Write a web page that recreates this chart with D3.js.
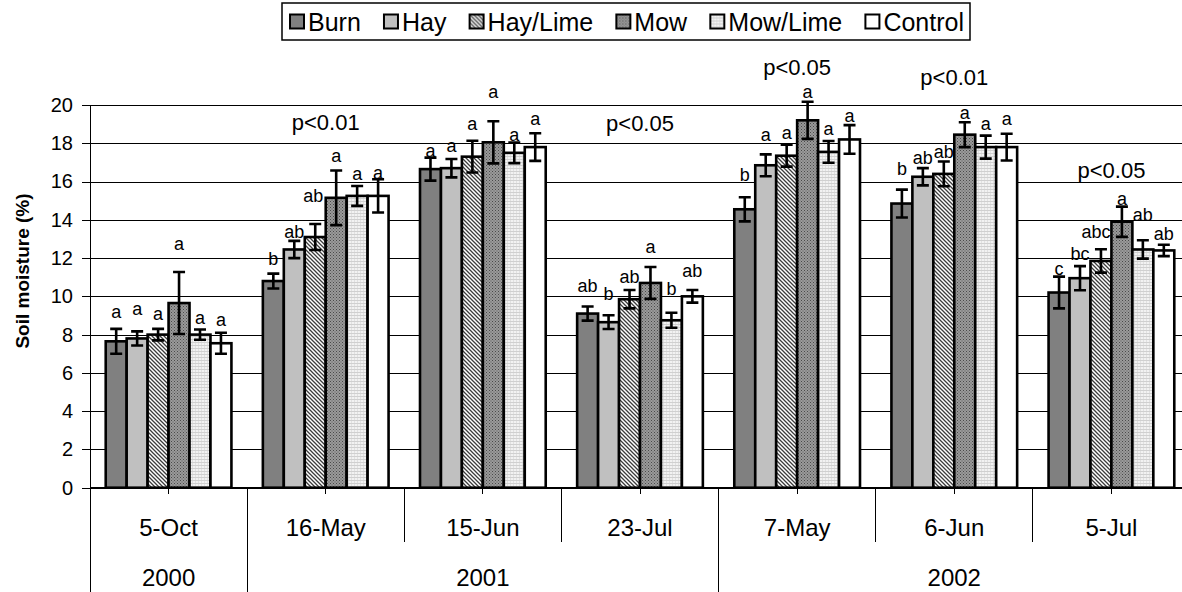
<!DOCTYPE html>
<html>
<head>
<meta charset="utf-8">
<script src="https://cdn.jsdelivr.net/npm/d3@7"></script>
<style>
  html, body { margin: 0; padding: 0; background: #fff; }
  svg { display: block; font-family: "Liberation Sans", Arial, sans-serif; }
</style>
</head>
<body>
<svg id="chart" width="1182" height="592"></svg>
<script>
// ---- data ----
const dates = ["5-Oct", "16-May", "15-Jun", "23-Jul", "7-May", "6-Jun", "5-Jul"];
const yearLabels = ["2000", "2001", "2002"];
const yearSpans = [1, 3, 3];            // number of sampling dates in each year
const seriesNames = ["Burn", "Hay", "Hay/Lime", "Mow", "Mow/Lime", "Control"];
const yTicks = [0, 2, 4, 6, 8, 10, 12, 14, 16, 18, 20];

const burn       = [7.65, 10.8, 16.65, 9.1, 14.55, 14.85, 10.2];
const hay        = [7.8, 12.45, 16.7, 8.65, 16.85, 16.25, 10.95];
const hayLime    = [8.0, 13.1, 17.3, 9.85, 17.35, 16.4, 11.85];
const mow        = [9.65, 15.15, 18.05, 10.7, 19.2, 18.45, 13.9];
const mowLime    = [8.0, 15.25, 17.5, 8.75, 17.55, 17.8, 12.45];
const control    = [7.55, 15.25, 17.8, 10.0, 18.2, 17.8, 12.4];

const burnErr    = [0.65, 0.39, 0.6, 0.37, 0.63, 0.73, 0.83];
const hayErr     = [0.37, 0.45, 0.48, 0.36, 0.57, 0.45, 0.63];
const hayLimeErr = [0.3, 0.68, 0.83, 0.48, 0.57, 0.65, 0.61];
const mowErr     = [1.62, 1.43, 1.1, 0.83, 0.97, 0.65, 0.79];
const mowLimeErr = [0.27, 0.52, 0.54, 0.39, 0.57, 0.6, 0.48];
const controlErr = [0.55, 0.87, 0.72, 0.33, 0.75, 0.7, 0.3];

const burnLetters    = ["a", "b", "a", "ab", "b", "b", "c"];
const hayLetters     = ["a", "ab", "a", "b", "a", "ab", "bc"];
const hayLimeLetters = ["a", "ab", "a", "ab", "a", "ab", "abc"];
const mowLetters     = ["a", "a", "a", "a", "a", "a", "a"];
const mowLimeLetters = ["a", "a", "a", "b", "a", "a", "ab"];
const controlLetters = ["a", "a", "a", "ab", "a", "a", "ab"];

const pValues = ["", "p<0.01", "", "p<0.05", "p<0.05", "p<0.01", "p<0.05"];

// ---- layout ----
const W = 1182, H = 592;
const plot = { left: 90, right: 1190, top: 105, bottom: 487.7 };
// height (in axis units) at which each significance note sits
const pLevel = [null, 19.1, null, 19.05, 22.0, 21.45, 16.6];
// hand placement of the letter labels: [dx, dy] in px, by date then treatment
const letterNudge = [
  [[0,-4],[0,-9],[0,-2],[0,-15],[0,2],[0,0]],
  [[0,-2],[0,4],[-2,-15],[0,-1],[0,1],[0,7]],
  [[0,6],[0,0],[0,-4],[0,-16],[0,5],[0,-1]],
  [[0,-7],[0,-8],[0,0],[0,-7],[0,-11],[0,-6]],
  [[0,-9],[0,-6],[0,1],[0,3],[0,1],[0,4]],
  [[0,-8],[0,3],[0,4],[0,4],[0,1],[0,-2]],
  [[0,5],[0,1],[-5,-4],[0,5],[0,-12],[0,2]]
];

const values  = [burn, hay, hayLime, mow, mowLime, control];
const errors  = [burnErr, hayErr, hayLimeErr, mowErr, mowLimeErr, controlErr];
const letters = [burnLetters, hayLetters, hayLimeLetters, mowLetters, mowLimeLetters, controlLetters];

const svg = d3.select("#chart");

// ---- fills ----
const defs = svg.append("defs");
function pattern(id, size, bg, draw) {
  const p = defs.append("pattern").attr("id", id).attr("patternUnits", "userSpaceOnUse")
    .attr("width", size).attr("height", size);
  p.append("rect").attr("width", size).attr("height", size).attr("fill", bg);
  draw(p);
}
pattern("hatchDiag", 4, "#ffffff", p => {
  p.append("path").attr("d", "M0,0 L4,4 M-1,3 L1,5 M3,-1 L5,1")
    .attr("stroke", "#3c3c3c").attr("stroke-width", 1.3);
});
pattern("dotDark", 3, "#9a9a9a", p => {
  p.append("rect").attr("x", 0).attr("y", 0).attr("width", 1).attr("height", 1).attr("fill", "#4a4a4a");
  p.append("rect").attr("x", 1.5).attr("y", 1.5).attr("width", 1).attr("height", 1).attr("fill", "#5a5a5a");
});
pattern("dotLight", 3, "#f2f2f2", p => {
  p.append("rect").attr("x", 0).attr("y", 0).attr("width", 3).attr("height", 0.8).attr("fill", "#c8c8c8");
  p.append("rect").attr("x", 0).attr("y", 1.5).attr("width", 1).attr("height", 1).attr("fill", "#d0d0d0");
});
const fills = ["#808080", "#c0c0c0", "url(#hatchDiag)", "url(#dotDark)", "url(#dotLight)", "#ffffff"];

// ---- scales ----
const x0 = d3.scaleBand().domain(dates).range([plot.left, plot.right]).paddingInner(0).paddingOuter(0);
const x1 = d3.scaleBand().domain(seriesNames).range([0, x0.bandwidth()]).paddingInner(0).paddingOuter(0.75);
const y = d3.scaleLinear().domain([0, 20]).range([plot.bottom, plot.top]);

// ---- gridlines ----
svg.append("g")
  .attr("transform", `translate(${plot.left},0)`)
  .call(d3.axisLeft(y).tickValues(yTicks).tickSize(-(plot.right - plot.left)).tickFormat(""))
  .call(g => g.select(".domain").remove())
  .call(g => g.selectAll("line").attr("stroke", "#000").attr("stroke-width", 1).attr("shape-rendering", "crispEdges"));

// ---- bars ----
const rows = [];
dates.forEach((d, gi) => seriesNames.forEach((s, si) => {
  rows.push({ date: d, series: s, gi, si, v: values[si][gi], e: errors[si][gi], letter: letters[si][gi] });
}));

svg.append("g").selectAll("rect").data(rows).join("rect")
  .attr("x", r => x0(r.date) + x1(r.series))
  .attr("y", r => y(r.v))
  .attr("width", x1.bandwidth())
  .attr("height", r => y(0) - y(r.v))
  .attr("fill", r => fills[r.si])
  .attr("stroke", "#000")
  .attr("stroke-width", 2.6);

// ---- error bars ----
const cap = 6;
const eb = svg.append("g").attr("stroke", "#000").attr("stroke-width", 2.6).attr("fill", "none");
eb.selectAll("path").data(rows).join("path")
  .attr("d", r => {
    const cx = x0(r.date) + x1(r.series) + x1.bandwidth() / 2;
    const t = y(r.v + r.e), b = y(r.v - r.e);
    return `M${cx},${t}V${b}M${cx - cap},${t}H${cx + cap}M${cx - cap},${b}H${cx + cap}`;
  });

// ---- letter labels ----
svg.append("g").attr("font-size", 18).attr("text-anchor", "middle").attr("fill", "#000")
  .selectAll("text").data(rows).join("text")
  .attr("x", r => x0(r.date) + x1(r.series) + x1.bandwidth() / 2 + letterNudge[r.gi][r.si][0])
  .attr("y", r => y(r.v + r.e) - 12 + 5 + letterNudge[r.gi][r.si][1])
  .text(r => r.letter);

// ---- significance notes ----
svg.append("g").attr("font-size", 22).attr("text-anchor", "middle")
  .selectAll("text").data(dates.map((d, i) => ({ d, p: pValues[i], lv: pLevel[i] })).filter(o => o.p))
  .join("text")
  .attr("x", o => x0(o.d) + x0.bandwidth() / 2)
  .attr("y", o => y(o.lv) + 8)
  .text(o => o.p);

// ---- y axis ----
svg.append("g")
  .attr("transform", `translate(${plot.left},0)`)
  .call(d3.axisLeft(y).tickValues(yTicks).tickSize(8).tickPadding(9))
  .call(g => g.select(".domain").remove())
  .call(g => g.selectAll("line").attr("stroke", "#000").attr("shape-rendering", "crispEdges"))
  .call(g => g.selectAll("text").attr("font-size", 20).attr("font-family", "Liberation Sans, Arial, sans-serif").attr("fill", "#000"));

svg.append("line")
  .attr("x1", plot.left).attr("x2", plot.left).attr("y1", plot.top).attr("y2", H)
  .attr("stroke", "#000").attr("shape-rendering", "crispEdges");

svg.append("text")
  .attr("transform", `translate(22,271) rotate(-90)`)
  .attr("text-anchor", "middle").attr("dominant-baseline", "central")
  .attr("font-size", 19).attr("font-weight", "bold")
  .text("Soil moisture (%)");

// ---- category axis ----
svg.append("g")
  .attr("transform", `translate(0,${plot.bottom})`)
  .call(d3.axisBottom(x0).tickSize(6).tickPadding(25))
  .call(g => g.select(".domain").remove())
  .call(g => g.selectAll("line").attr("stroke", "#000").attr("shape-rendering", "crispEdges"))
  .call(g => g.selectAll("text").attr("font-size", 24).attr("font-family", "Liberation Sans, Arial, sans-serif").attr("fill", "#000"));

svg.append("line")
  .attr("x1", plot.left).attr("x2", plot.right).attr("y1", plot.bottom).attr("y2", plot.bottom)
  .attr("stroke", "#000").attr("shape-rendering", "crispEdges");

// separators between dates (short) and between years (full height)
const yearBounds = [0];
yearSpans.forEach(n => yearBounds.push(yearBounds[yearBounds.length - 1] + n));
const bounds = d3.range(dates.length + 1);
svg.append("g").selectAll("line").data(bounds).join("line")
  .attr("x1", i => plot.left + i * x0.step()).attr("x2", i => plot.left + i * x0.step())
  .attr("y1", plot.bottom)
  .attr("y2", i => yearBounds.includes(i) ? H : 542)
  .attr("stroke", "#000").attr("shape-rendering", "crispEdges");

svg.append("g").attr("font-size", 24).attr("text-anchor", "middle")
  .selectAll("text").data(yearLabels).join("text")
  .attr("x", (d, i) => plot.left + (yearBounds[i] + yearBounds[i + 1]) / 2 * x0.step())
  .attr("y", 586)
  .text(d => d);

// ---- legend ----
const lg = svg.append("g").attr("font-size", 25);
const boxL = 282, boxR = 970, boxT = 3, boxB = 40, sq = 14, sqGap = 4;
const midY = (boxT + boxB) / 2;
const items = lg.selectAll("g.item").data(seriesNames).join("g").attr("class", "item");
items.append("rect").attr("width", sq).attr("height", sq)
  .attr("fill", (d, i) => fills[i]).attr("stroke", "#000").attr("stroke-width", 2);
items.append("text").attr("x", sq + sqGap).attr("y", sq / 2).attr("dy", "0.36em").text(d => d);
const widths = items.nodes().map(n => sq + sqGap + n.querySelector("text").getComputedTextLength());
const innerL = boxL + 8, innerR = boxR - 6;
const spacing = (innerR - innerL - d3.sum(widths)) / (seriesNames.length - 1);
let cx = innerL;
items.each(function (d, i) {
  d3.select(this).attr("transform", `translate(${cx},${midY - sq / 2})`);
  cx += widths[i] + spacing;
});
lg.insert("rect", ":first-child")
  .attr("x", boxL).attr("y", boxT).attr("width", boxR - boxL).attr("height", boxB - boxT)
  .attr("fill", "#fff").attr("stroke", "#000").attr("stroke-width", 1.5);
</script>
</body>
</html>
